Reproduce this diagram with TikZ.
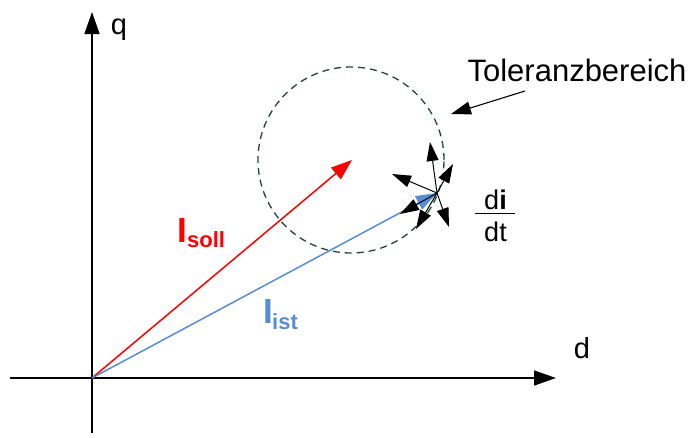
\documentclass[tikz,border=0pt]{standalone}
\usepackage{fontspec}
\setmainfont{Liberation Sans}
\usetikzlibrary{arrows.meta}
\definecolor{solred}{RGB}{255,0,0}
\definecolor{istblue}{RGB}{85,142,213}
\definecolor{toldash}{RGB}{30,70,50}
\begin{document}
\begin{tikzpicture}[x=1pt,y=-1pt,
  axis/.style={line width=1.6pt,-{Triangle[length=22pt,width=15pt]}},
  vec/.style={line width=1.5pt,-{Triangle[length=21pt,width=15pt]}},
  small/.style={line width=1pt,-{Triangle[length=19pt,width=12pt]}},
  lbl/.style={inner sep=0pt,font=\fontsize{29}{32}\selectfont},
  frac/.style={inner sep=0pt,font=\fontsize{27}{30}\selectfont,anchor=base}]
\useasboundingbox (0,0) rectangle (688,437);
\coordinate (O) at (92,378);
\coordinate (xe) at (10,378);
\coordinate (xt) at (556,378);
\coordinate (ye) at (92,433);
\coordinate (yt) at (92,12);
\draw[axis] (xe) -- (xt);
\draw[axis] (ye) -- (yt);
\node[lbl] (q) at (119,29.5) {q};
\node[lbl] (d) at (582,348.5) {d};
\node[draw=toldash,dash pattern=on 7pt off 5pt,line width=1.3pt,circle,minimum size=186pt,inner sep=0pt] (C) at (351,160) {};
\coordinate (S) at (352,160);
\coordinate (H) at (437,193);
\draw[vec,solred] (O) -- (S);
\draw[vec,istblue] (O) -- (H);
\coordinate (a1) at (430,142);
\coordinate (a2) at (453,164);
\coordinate (a3) at (392,174);
\coordinate (a4) at (400,214);
\coordinate (a5) at (416,229);
\coordinate (a6) at (449,227);
\foreach \t in {a1,a2,a3,a4,a5,a6} \draw[small] (H) -- (\t);
\node[inner sep=0pt,font=\fontsize{31}{34}\selectfont,anchor=base] (tol) at (577,81) {Toleranzbereich};
\coordinate (tolA) at (525,91);
\coordinate (tolB) at (451,114);
\draw[line width=1.1pt,-{Triangle[length=20pt,width=13pt]}] (tolA) -- (tolB);
\node[frac] (di) at (495.5,209) {d\textbf{i}};
\node[frac] (dt) at (495.5,241) {dt};
\coordinate (fl) at (475,213.5);
\coordinate (fr) at (515,213.5);
\draw[line width=1.4pt] (fl) -- (fr);
\node[inner sep=0pt,text=solred,font=\bfseries\fontsize{35}{38}\selectfont,anchor=base west] (isoll) at (177,242) {I};
\node[inner sep=0pt,text=solred,font=\bfseries\fontsize{22}{24}\selectfont,anchor=base west] (soll) at (187,247) {soll};
\node[inner sep=0pt,text=istblue,font=\bfseries\fontsize{35}{38}\selectfont,anchor=base west] (iist) at (263,323) {I};
\node[inner sep=0pt,text=istblue,font=\bfseries\fontsize{22}{24}\selectfont,anchor=base west] (ist) at (272,329) {ist};
\end{tikzpicture}
\end{document}
